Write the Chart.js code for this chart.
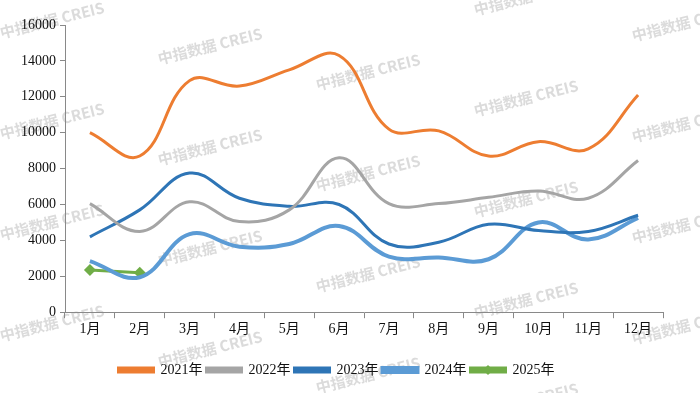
<!DOCTYPE html>
<html>
<head>
<meta charset="utf-8">
<script src="https://cdn.jsdelivr.net/npm/chart.js"></script>
<style>
  html, body { margin:0; padding:0; background:#fff; }
  #wrap { width:700px; height:393px; }
</style>
</head>
<body>
<div id="wrap"><canvas id="c" width="700" height="393"></canvas></div>
<script>
const months = ['1月','2月','3月','4月','5月','6月','7月','8月','9月','10月','11月','12月'];
const y2021 = [10000, 8700, 12900, 12600, 13500, 14300, 10200, 10100, 8700, 9500, 9100, 12100];
const y2022 = [6050, 4500, 6150, 5050, 5700, 8600, 6050, 6050, 6400, 6750, 6350, 8450];
const y2023 = [4200, 5700, 7750, 6350, 5900, 6000, 3800, 3900, 4900, 4550, 4500, 5400];
const y2024 = [2850, 1950, 4350, 3650, 3800, 4800, 3100, 3050, 2950, 5000, 4050, 5250];
const y2025 = [2350, 2200];
const yTicks = [0, 2000, 4000, 6000, 8000, 10000, 12000, 14000, 16000];

const font = "'Liberation Serif', 'Noto Sans CJK SC', serif";

// watermark "中指数据 CREIS"
const watermark = {
  id: 'watermark',
  beforeDraw(chart) {
    const ctx = chart.ctx;
    ctx.save();
    ctx.fillStyle = '#fff';
    ctx.fillRect(0, 0, chart.width, chart.height);
    ctx.font = "bold 15px 'Noto Sans CJK SC', sans-serif";
    ctx.fillStyle = 'rgba(195,195,195,0.6)';
    ctx.textBaseline = 'middle';
    for (let col = 0; col < 5; col++) {
      for (let row = -1; row < 5; row++) {
        const x = col * 158;
        const y = 33 + col * 26 + row * 101;
        ctx.save();
        ctx.translate(x, y);
        ctx.rotate(-14 * Math.PI / 180);
        ctx.fillText('中指数据 CREIS', 0, 0);
        ctx.restore();
      }
    }
    ctx.restore();
  }
};

// diamond on the 2025 legend sample
const legendDiamond = {
  id: 'legendDiamond',
  afterDraw(chart) {
    const boxes = chart.legend.legendHitBoxes;
    if (!boxes || !boxes[4]) return;
    const b = boxes[4];
    const cx = b.left + 17.5, cy = b.top + b.height / 2;
    const ctx = chart.ctx;
    ctx.save();
    ctx.fillStyle = '#70AD47';
    ctx.beginPath();
    ctx.moveTo(cx, cy - 5);
    ctx.lineTo(cx + 5, cy);
    ctx.lineTo(cx, cy + 5);
    ctx.lineTo(cx - 5, cy);
    ctx.closePath();
    ctx.fill();
    ctx.restore();
  }
};

function series(label, data, color, width, extra) {
  return Object.assign({
    label: label,
    data: data,
    borderColor: color,
    backgroundColor: color,
    borderWidth: width,
    tension: 0.4,
    pointRadius: 0,
    pointHoverRadius: 0,
    fill: false
  }, extra || {});
}

new Chart(document.getElementById('c'), {
  type: 'line',
  data: {
    labels: months,
    datasets: [
      series('2021年', y2021, '#ED7D31', 3),
      series('2022年', y2022, '#A5A5A5', 3),
      series('2023年', y2023, '#2E75B6', 3),
      series('2024年', y2024, '#5B9BD5', 4),
      series('2025年', y2025, '#70AD47', 3, {
        pointRadius: 6, pointStyle: 'rectRot', pointBorderWidth: 0, tension: 0
      })
    ]
  },
  options: {
    responsive: false,
    animation: false,
    layout: { padding: { left: 10, right: 37, top: 25, bottom: 6 } },
    plugins: {
      tooltip: { enabled: false },
      legend: {
        position: 'bottom',
        labels: {
          boxWidth: 35,
          boxHeight: 4,
          padding: 4,
          color: '#111',
          font: { family: font, size: 14 }
        }
      }
    },
    scales: {
      x: {
        offset: true,
        afterFit(axis) { axis.height += 18; },
        grid: { display: true, offset: true, drawOnChartArea: false, drawTicks: true, tickLength: 6, color: '#898989' },
        border: { color: '#898989', width: 1 },
        ticks: { color: '#111', font: { family: font, size: 14 }, maxRotation: 0, padding: 3 }
      },
      y: {
        min: 0,
        max: 16000,
        afterBuildTicks(axis) { axis.ticks = yTicks.map(v => ({ value: v })); },
        afterFit(axis) { axis.width = 55; },
        grid: { display: true, drawOnChartArea: false, drawTicks: true, tickLength: 5, color: '#898989' },
        border: { color: '#898989', width: 1 },
        ticks: { color: '#111', font: { family: font, size: 14 }, padding: 4, callback: v => String(v) }
      }
    }
  },
  plugins: [watermark, legendDiamond]
});
</script>
</body>
</html>
